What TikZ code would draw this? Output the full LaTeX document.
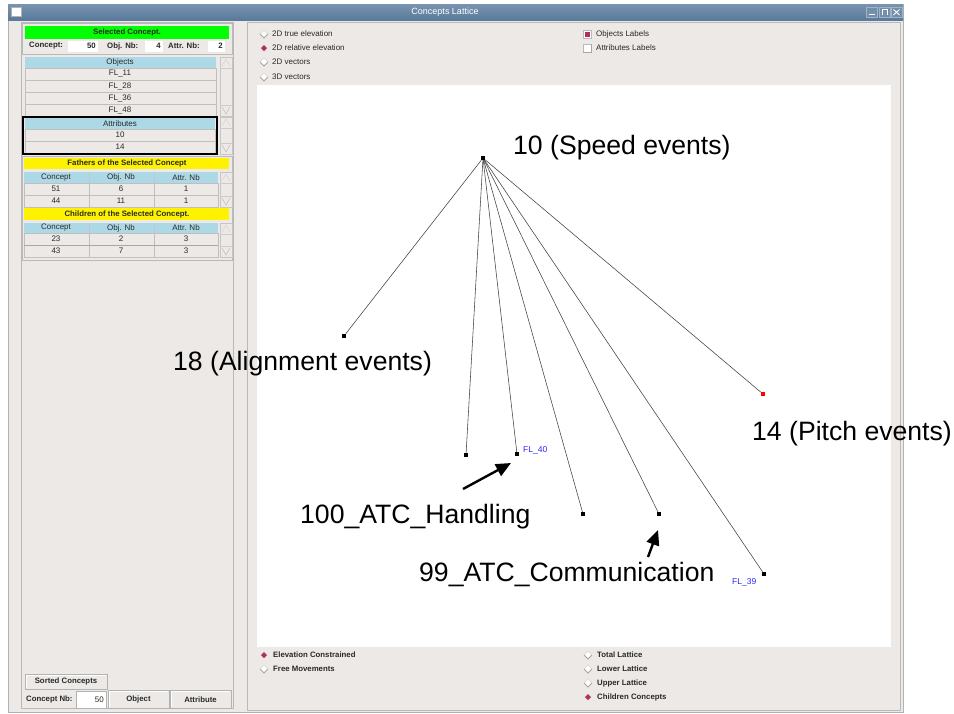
\documentclass[tikz,border=0pt]{standalone}
\usepackage{fontspec}
\setmainfont{Liberation Sans}
\usetikzlibrary{arrows.meta,shapes.geometric}

\definecolor{winbg}{HTML}{ECE9E6}
\definecolor{titlebar}{HTML}{5A7A9A}
\definecolor{titletop}{HTML}{7894B0}
\definecolor{hdrblue}{HTML}{ADD8E6}
\definecolor{selmag}{HTML}{B03060}
\definecolor{flblue}{HTML}{2A2AFF}
\definecolor{guitext}{HTML}{2A2A2A}

% small helpers for the widgets
\newcommand\guiscroll[4]{%
  \draw[gray!45, fill=winbg] (#1,#2) rectangle (#3,#4);
  \draw[gray!35] (#1+2,#2+9) -- ({(#1+#3)/2},#2+2) -- (#3-2,#2+9);
  \draw[gray!55] (#1+2,#4-9) -- ({(#1+#3)/2},#4-2) -- (#3-2,#4-9);
  \draw[gray!40] (#1,#2+11) -- (#3,#2+11) (#1,#4-11) -- (#3,#4-11);
}
\newcommand\guibutton[4]{%
  \draw[gray!60, fill=winbg] (#1,#2) rectangle (#3,#4);
  \draw[white, line width=0.8pt] (#1+1,#4-1) -- (#1+1,#2+1) -- (#3-1,#2+1);
}

\tikzset{
  x=1pt, y=-1pt,
  gui/.style={font=\fontsize{8}{9}\selectfont, inner sep=0pt, text=guitext},
  guib/.style={font=\fontsize{7.8}{9}\selectfont\bfseries, inner sep=0pt, text=guitext},
  biglabel/.style={font=\fontsize{26.6}{30}\selectfont, inner sep=0pt, anchor=west, text=black},
  flabel/.style={font=\fontsize{8.5}{9}\selectfont, inner sep=0pt, anchor=west, text=flblue},
  lnode/.style={fill=black, minimum size=4pt, inner sep=0pt, draw=none, rectangle},
  latedge/.style={draw=black!75, line width=0.55pt},
  annot/.style={line width=2.4pt, -{Triangle[length=15pt,width=13pt]}},
  row/.style={draw=gray!50, fill=winbg},
  radioOff/.pic={
    \fill[white] (-4,0) -- (0,-4) -- (4,0) -- (0,4) -- cycle;
    \draw[gray!25, line width=0.8pt] (-4,0) -- (0,-4) -- (4,0);
    \draw[gray!70, line width=0.8pt] (-4,0) -- (0,4) -- (4,0);
  },
  radioOn/.pic={
    \fill[gray!20] (-4,0) -- (0,-4) -- (4,0) -- (0,4) -- cycle;
    \fill[selmag] (-3,0) -- (0,-3) -- (3,0) -- (0,3) -- cycle;
  },
  checkOn/.pic={
    \draw[gray!55, fill=white] (-4,-4) rectangle (4,4);
    \fill[selmag] (-2.5,-2.5) rectangle (3,3);
  },
  checkOff/.pic={
    \draw[gray!55, fill=white] (-4,-4) rectangle (4,4);
    \draw[gray!70] (-4,4) -- (4,4) -- (4,-4);
  },
}

\begin{document}
\begin{tikzpicture}
\useasboundingbox (0,0) rectangle (954,713);
\fill[white] (0,0) rectangle (954,713);

% ---------- window ----------
\draw[gray!60, fill=winbg] (8,4) rectangle (903,712);
\shade[top color=titletop, bottom color=titlebar] (8,4) rectangle (903,20);
\draw[white, fill=white] (11,7) rectangle (21,16);
\draw[gray!60] (11,7) rectangle (21,16);
\node[font=\fontsize{9}{10}\selectfont, inner sep=0pt, text=white] (title) at (445,12) {Concepts Lattice};
\foreach \bx in {866,879,891} {
  \draw[titletop!70!white, fill=titlebar!85!white] (\bx,7) rectangle (\bx+11,17);
}
\draw[white, line width=0.8pt] (868.5,14.5) -- (874.5,14.5);
\draw[white, line width=0.8pt] (882,15) -- (882,9.5) -- (887,9.5) -- (887,15);
\draw[white, line width=0.9pt] (893.5,9.5) -- (899.5,15) (899.5,9.5) -- (893.5,15);

% ---------- left panel ----------
\draw[gray!55] (21,22) rectangle (233,708);

% selected concept
\draw[gray!55] (22,23) rectangle (232,54);
\fill[green] (25,26) rectangle (229,39);
\node[guib] (selhdr) at (127,32.5) {Selected Concept.};
\node[guib, anchor=west] (lconc) at (29,46) {Concept:};
\fill[white] (68,41) rectangle (98,52);
\node[guib, anchor=east] (vconc) at (96,46) {50};
\node[guib, anchor=west] (lobj) at (107,46) {Obj. Nb:};
\fill[white] (145,41) rectangle (163,52);
\node[guib, anchor=east] (vobj) at (161,46) {4};
\node[guib, anchor=west] (lattr) at (168,46) {Attr. Nb:};
\fill[white] (208,41) rectangle (225,52);
\node[guib, anchor=east] (vattr) at (223,46) {2};

% objects
\fill[hdrblue] (25,57) rectangle (216,68);
\node[gui] (objhdr) at (120,62.5) {Objects};
\foreach \t [count=\i from 0] in {FL\_11,FL\_28,FL\_36,FL\_48} {
  \draw[row] (25,68+12*\i) rectangle (216,80+12*\i);
  \node[gui] (obj\i) at (120,74+12*\i) {\t};
}
\guiscroll{220}{57}{232}{116}

% attributes
\fill[hdrblue] (25,118) rectangle (215,129);
\node[gui] (atthdr) at (120,123.5) {Attributes};
\foreach \t [count=\i from 0] in {10,14} {
  \draw[row] (25,129+12*\i) rectangle (215,141+12*\i);
  \node[gui] (att\i) at (120,135+12*\i) {\t};
}
\draw[black, line width=1.2pt] (23,117) rectangle (217,154);
\guiscroll{220}{117}{232}{154}

% fathers and children
\draw[gray!55] (22,156) rectangle (232,260);
\fill[yellow] (24,158) rectangle (229,169);
\node[guib] (fathdr) at (127,163.5) {Fathers of the Selected Concept};
\fill[hdrblue] (24,172) rectangle (218,183);
\draw[gray!45] (89,172) -- (89,183) (154,172) -- (154,183);
\node[gui] (fc1) at (56,177.5) {Concept};
\node[gui] (fc2) at (121,177.5) {Obj. Nb};
\node[gui] (fc3) at (186,177.5) {Attr. Nb};
\foreach \a/\b/\c [count=\i from 0] in {51/6/1,44/11/1} {
  \draw[row] (24,183+12*\i) rectangle (89,195+12*\i);
  \draw[row] (89,183+12*\i) rectangle (154,195+12*\i);
  \draw[row] (154,183+12*\i) rectangle (218,195+12*\i);
  \node[gui] (fa\i) at (56,189+12*\i) {\a};
  \node[gui] (fb\i) at (121,189+12*\i) {\b};
  \node[gui] (fcc\i) at (186,189+12*\i) {\c};
}
\guiscroll{220}{172}{232}{207}

\fill[yellow] (24,208) rectangle (229,220);
\node[guib] (chdhdr) at (127,214) {Children of the Selected Concept.};
\fill[hdrblue] (24,223) rectangle (218,233);
\draw[gray!45] (89,223) -- (89,233) (154,223) -- (154,233);
\node[gui] (cc1) at (56,228) {Concept};
\node[gui] (cc2) at (121,228) {Obj. Nb};
\node[gui] (cc3) at (186,228) {Attr. Nb};
\foreach \a/\b/\c [count=\i from 0] in {23/2/3,43/7/3} {
  \draw[row] (24,233+12*\i) rectangle (89,245+12*\i);
  \draw[row] (89,233+12*\i) rectangle (154,245+12*\i);
  \draw[row] (154,233+12*\i) rectangle (218,245+12*\i);
  \node[gui] (ca\i) at (56,239+12*\i) {\a};
  \node[gui] (cb\i) at (121,239+12*\i) {\b};
  \node[gui] (ccc\i) at (186,239+12*\i) {\c};
}
\draw[gray!70, line width=1pt] (24,245.5) -- (218,245.5);
\guiscroll{220}{223}{232}{257}

% bottom-left controls
\guibutton{25}{674}{107}{689}
\node[guib] (sorted) at (66,681.5) {Sorted Concepts};
\node[guib, anchor=west] (cnb) at (26,699.5) {Concept Nb:};
\draw[gray!60, fill=white] (76,691) rectangle (106,708);
\node[gui, anchor=east] (cnbv) at (104,699.5) {50};
\guibutton{108}{690}{169}{708}
\node[guib] (objbtn) at (138.5,699.5) {Object};
\guibutton{170}{690}{231}{708}
\node[guib] (attbtn) at (200.5,699.5) {Attribute};

% ---------- right pane ----------
\draw[gray!55] (247,22) rectangle (900,710);

\pic at (264,34) {radioOff};
\node[gui, anchor=west] (r1) at (272,34) {2D true elevation};
\pic at (264,48) {radioOn};
\node[gui, anchor=west] (r2) at (272,48) {2D relative elevation};
\pic at (264,62) {radioOff};
\node[gui, anchor=west] (r3) at (272,62) {2D vectors};
\pic at (264,77) {radioOff};
\node[gui, anchor=west] (r4) at (272,77) {3D vectors};

\pic at (587,34) {checkOn};
\node[gui, anchor=west] (k1) at (596,34) {Objects Labels};
\pic at (587,48) {checkOff};
\node[gui, anchor=west] (k2) at (596,48) {Attributes Labels};

% drawing area
\fill[white] (257,85) rectangle (891,647);

\pic at (264,655) {radioOn};
\node[guib, anchor=west] (b1) at (273,655) {Elevation Constrained};
\pic at (264,669) {radioOff};
\node[guib, anchor=west] (b2) at (273,669) {Free Movements};
\pic at (588,655) {radioOff};
\node[guib, anchor=west] (b3) at (597,655) {Total Lattice};
\pic at (588,669) {radioOff};
\node[guib, anchor=west] (b4) at (597,669) {Lower Lattice};
\pic at (588,683) {radioOff};
\node[guib, anchor=west] (b5) at (597,683) {Upper Lattice};
\pic at (588,697) {radioOn};
\node[guib, anchor=west] (b6) at (597,697) {Children Concepts};

% ---------- lattice ----------
\node[lnode] (c10) at (483,158) {};
\node[lnode] (c18) at (344,336) {};
\node[lnode] (cA) at (466,455) {};
\node[lnode] (c100) at (517,454) {};
\node[lnode] (cB) at (583,514) {};
\node[lnode] (c99) at (659,514) {};
\node[lnode, fill=red] (c14) at (763,394) {};
\node[lnode] (cFL39) at (764,574) {};

\foreach \t in {c18,cA,c100,cB,c99,c14,cFL39}
  \draw[latedge] (c10) -- (\t);

\node[flabel] (fl40) at (523,450) {FL\_40};
\node[flabel] (fl39) at (732,582) {FL\_39};

\node[biglabel] (l10) at (513,148) {10 (Speed events)};
\node[biglabel] (l18) at (173,364) {18 (Alignment events)};
\node[biglabel] (l14) at (752,434) {14 (Pitch events)};
\node[biglabel] (l100) at (300,517) {100\_ATC\_Handling};
\node[biglabel] (l99) at (419,574) {99\_ATC\_Communication};

% annotation arrows
\coordinate (h100tail) at (463,489);
\coordinate (h100tip) at (511,463);
\draw[annot] (h100tail) -- (h100tip);
\coordinate (h99tail) at (648,557);
\coordinate (h99tip) at (658,530);
\draw[annot] (h99tail) -- (h99tip);
\end{tikzpicture}
\end{document}
